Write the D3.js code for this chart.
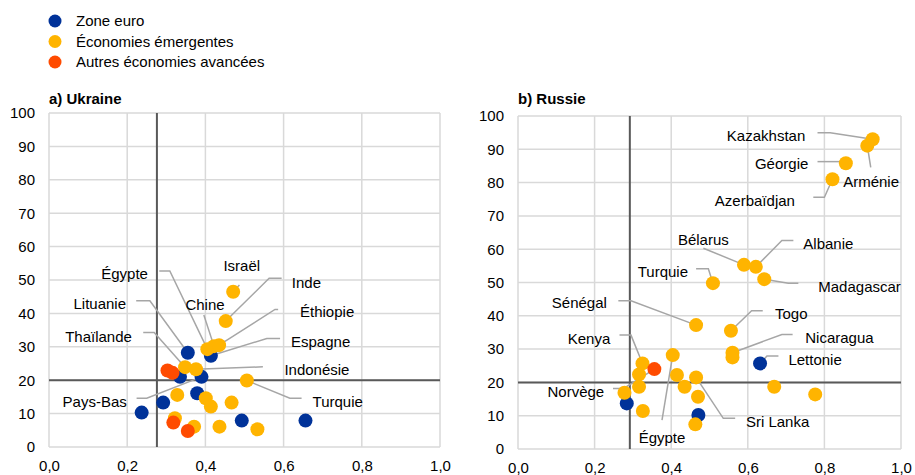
<!DOCTYPE html>
<html>
<head>
<meta charset="utf-8">
<script src="https://cdn.jsdelivr.net/npm/d3@7"></script>
<style>
  body { margin: 0; background: #fff; }
  text { font-family: "Liberation Sans", Arial, sans-serif; fill: #000; }
</style>
</head>
<body>
<div id="chart"></div>
<script>
// groups
var groups = ["Zone euro", "Économies émergentes", "Autres économies avancées"];
var groupColors = ["#003299", "#ffb400", "#ff4b00"];

var xTicks = [0, 0.2, 0.4, 0.6, 0.8, 1.0];
var yTicks = [0, 10, 20, 30, 40, 50, 60, 70, 80, 90, 100];

// a) Ukraine : x, y, group index (0 euro, 1 emergent, 2 other advanced)
var ukrX = [0.471, 0.452, 0.405, 0.422, 0.435, 0.414, 0.355, 0.303, 0.316, 0.348, 0.376, 0.335, 0.390, 0.506, 0.379, 0.328, 0.401, 0.414, 0.467, 0.292, 0.237, 0.322, 0.318, 0.371, 0.355, 0.436, 0.493, 0.533, 0.656];
var ukrY = [46.5, 37.7, 29.3, 30.2, 30.5, 27.3, 28.2, 22.9, 22.2, 23.9, 23.3, 21.0, 21.0, 19.9, 16.1, 15.6, 14.6, 12.1, 13.3, 13.3, 10.3, 8.6, 7.3, 6.1, 4.8, 6.1, 7.9, 5.3, 7.9];
var ukrG = [1, 1, 1, 1, 1, 0, 0, 2, 2, 1, 1, 0, 0, 1, 0, 1, 1, 1, 1, 0, 0, 1, 2, 1, 2, 1, 0, 1, 0];
var ukrRef = {x: 0.276, y: 20};

// b) Russie
var rusX = [0.926, 0.912, 0.856, 0.821, 0.590, 0.621, 0.643, 0.509, 0.465, 0.556, 0.560, 0.560, 0.632, 0.404, 0.325, 0.356, 0.316, 0.415, 0.465, 0.316, 0.435, 0.278, 0.284, 0.470, 0.326, 0.471, 0.463, 0.669, 0.776];
var rusY = [93.0, 91.1, 85.8, 81.0, 55.3, 54.7, 51.0, 49.8, 37.2, 35.5, 28.9, 27.5, 25.7, 28.2, 25.7, 24.0, 22.4, 22.2, 21.5, 18.7, 18.7, 16.9, 13.7, 15.7, 11.4, 10.2, 7.4, 18.7, 16.4];
var rusG = [1, 1, 1, 1, 1, 1, 1, 1, 1, 1, 1, 1, 0, 1, 1, 2, 1, 1, 1, 1, 1, 1, 0, 1, 1, 0, 1, 1, 1];
var rusRef = {x: 0.292, y: 20};

// country labels: text, label point, anchor, leader path (data units) ending on the dot
var ukrLabels = [
  {t: "Israël", at: [0.493, 54.2], a: "middle", path: [[0.487, 48.5], [0.471, 46.5]]},
  {t: "Égypte", at: [0.253, 52.0], a: "end", path: [[0.282, 52.7], [0.309, 52.7], [0.405, 29.3]]},
  {t: "Lituanie", at: [0.197, 43.0], a: "end", path: [[0.223, 43.8], [0.258, 43.8], [0.355, 28.2]]},
  {t: "Thaïlande", at: [0.212, 33.0], a: "end", path: [[0.241, 34.3], [0.269, 34.3], [0.348, 23.9]]},
  {t: "Pays-Bas", at: [0.199, 13.6], a: "end", path: [[0.224, 14.6], [0.25, 14.6], [0.39, 21.0]]},
  {t: "Chine", at: [0.399, 42.7], a: "middle", path: [[0.396, 39.5], [0.422, 30.2]]},
  {t: "Inde", at: [0.621, 49.2], a: "start", path: [[0.595, 50.5], [0.563, 50.5], [0.452, 37.7]]},
  {t: "Éthiopie", at: [0.642, 40.5], a: "start", path: [[0.586, 41.2], [0.578, 41.2], [0.435, 30.5]]},
  {t: "Espagne", at: [0.619, 31.5], a: "start", path: [[0.591, 32.5], [0.557, 32.5], [0.414, 27.3]]},
  {t: "Indonésie", at: [0.602, 23.1], a: "start", path: [[0.547, 24.0], [0.376, 23.3]]},
  {t: "Turquie", at: [0.674, 13.6], a: "start", path: [[0.646, 14.6], [0.616, 14.6], [0.506, 19.9]]}
];
var rusLabels = [
  {t: "Kazakhstan", at: [0.75, 94.1], a: "end", path: [[0.782, 95.0], [0.815, 95.0], [0.926, 93.0]]},
  {t: "Géorgie", at: [0.758, 85.8], a: "end", path: [[0.782, 86.3], [0.856, 86.3]]},
  {t: "Arménie", at: [0.849, 80.3], a: "start", path: [[0.921, 84.6], [0.912, 91.1]]},
  {t: "Azerbaïdjan", at: [0.723, 74.6], a: "end", path: [[0.771, 75.6], [0.8, 75.6], [0.821, 81.0]]},
  {t: "Bélarus", at: [0.484, 62.8], a: "middle", path: [[0.484, 60.3], [0.590, 55.3]]},
  {t: "Albanie", at: [0.745, 61.6], a: "start", path: [[0.719, 62.6], [0.689, 62.6], [0.621, 54.7]]},
  {t: "Turquie", at: [0.444, 53.2], a: "end", path: [[0.465, 54.1], [0.497, 54.1], [0.509, 49.8]]},
  {t: "Madagascar", at: [0.784, 48.7], a: "start", path: [[0.732, 49.8], [0.706, 49.8], [0.643, 51.0]]},
  {t: "Sénégal", at: [0.232, 43.8], a: "end", path: [[0.262, 44.5], [0.295, 44.5], [0.465, 37.2]]},
  {t: "Togo", at: [0.671, 40.5], a: "start", path: [[0.639, 41.5], [0.61, 41.5], [0.556, 35.5]]},
  {t: "Nicaragua", at: [0.75, 33.5], a: "start", path: [[0.717, 34.4], [0.689, 34.4], [0.560, 28.9]]},
  {t: "Lettonie", at: [0.706, 26.9], a: "start", path: [[0.68, 27.9], [0.65, 27.9], [0.632, 25.7]]},
  {t: "Kenya", at: [0.241, 33.2], a: "end", path: [[0.265, 34.2], [0.295, 34.2], [0.325, 25.7]]},
  {t: "Norvège", at: [0.225, 17.2], a: "end", path: [[0.248, 18.2], [0.276, 18.2], [0.356, 24.0]]},
  {t: "Égypte", at: [0.376, 3.5], a: "middle", path: [[0.376, 8.7], [0.404, 28.2]]},
  {t: "Sri Lanka", at: [0.595, 8.2], a: "start", path: [[0.567, 9.2], [0.536, 9.2], [0.465, 21.5]]}
];

var width = 915, height = 475;
var svg = d3.select("#chart").append("svg")
    .attr("width", width)
    .attr("height", height);

// legend
var legend = svg.append("g");
groups.forEach(function(g, i) {
  legend.append("circle").attr("cx", 55).attr("cy", 21 + i * 20.5).attr("r", 6.5).style("fill", groupColors[i]);
  legend.append("text").attr("x", 76).attr("y", 21 + i * 20.5).attr("dy", "0.35em")
    .style("font-size", "15px").text(g);
});

function drawPanel(title, box, xs, ys, gs, ref, labels) {
  var x = d3.scaleLinear().domain([0, 1]).range([box.left, box.right]);
  var y = d3.scaleLinear().domain([0, 100]).range([box.bottom, box.top]);
  var g = svg.append("g");

  // grid
  g.selectAll(".gx").data(xTicks).enter().append("line")
    .attr("x1", d => x(d)).attr("x2", d => x(d))
    .attr("y1", y(0)).attr("y2", y(100))
    .style("stroke", "#d9d9d9").style("stroke-width", 1.5);
  g.selectAll(".gy").data(yTicks).enter().append("line")
    .attr("x1", x(0)).attr("x2", x(1))
    .attr("y1", d => y(d)).attr("y2", d => y(d))
    .style("stroke", "#d9d9d9").style("stroke-width", 1.5);

  // axes (labels only)
  var xAxis = d3.axisBottom(x).tickValues(xTicks).tickSize(0).tickPadding(13)
    .tickFormat(d => d3.format(".1f")(d).replace(".", ","));
  var yAxis = d3.axisLeft(y).tickValues(yTicks).tickSize(0).tickPadding(14);
  g.append("g").attr("transform", `translate(0,${y(0)})`).call(xAxis)
    .call(a => a.select(".domain").remove())
    .selectAll("text").style("font-size", "15px").style("font-family", "Liberation Sans, Arial, sans-serif").attr("fill", "#000");
  g.append("g").attr("transform", `translate(${x(0)},0)`).call(yAxis)
    .call(a => a.select(".domain").remove())
    .selectAll("text").style("font-size", "15px").style("font-family", "Liberation Sans, Arial, sans-serif").attr("fill", "#000");

  // reference lines
  g.append("line").attr("x1", x(ref.x)).attr("x2", x(ref.x)).attr("y1", y(100)).attr("y2", y(0))
    .style("stroke", "#595959").style("stroke-width", 2);
  g.append("line").attr("x1", x(0)).attr("x2", x(1)).attr("y1", y(ref.y)).attr("y2", y(ref.y))
    .style("stroke", "#595959").style("stroke-width", 2);

  // leader lines
  var line = d3.line().x(d => x(d[0])).y(d => y(d[1]));
  g.selectAll(".leader").data(labels).enter().append("path")
    .attr("d", d => line(d.path))
    .style("fill", "none").style("stroke", "#a6a6a6").style("stroke-width", 1.5);

  // dots, drawn group by group
  var pts = xs.map((v, i) => ({x: v, y: ys[i], g: gs[i]}));
  [0, 1, 2].forEach(function(k) {
    g.selectAll(".dot" + k).data(pts.filter(p => p.g === k)).enter().append("circle")
      .attr("cx", d => x(d.x)).attr("cy", d => y(d.y)).attr("r", 7)
      .style("fill", groupColors[k]);
  });

  // labels
  g.selectAll(".lab").data(labels).enter().append("text")
    .attr("x", d => x(d.at[0])).attr("y", d => y(d.at[1])).attr("dy", "0.35em")
    .attr("text-anchor", d => d.a)
    .style("font-size", "15px")
    .text(d => d.t);

  // title
  g.append("text").attr("x", box.left).attr("y", 99).attr("dy", "0.35em")
    .style("font-size", "15px").style("font-weight", "bold").text(title);
}

drawPanel("a) Ukraine", {left: 49, right: 440, top: 113, bottom: 447}, ukrX, ukrY, ukrG, ukrRef, ukrLabels);
drawPanel("b) Russie", {left: 518, right: 901, top: 116, bottom: 449}, rusX, rusY, rusG, rusRef, rusLabels);
</script>
</body>
</html>
